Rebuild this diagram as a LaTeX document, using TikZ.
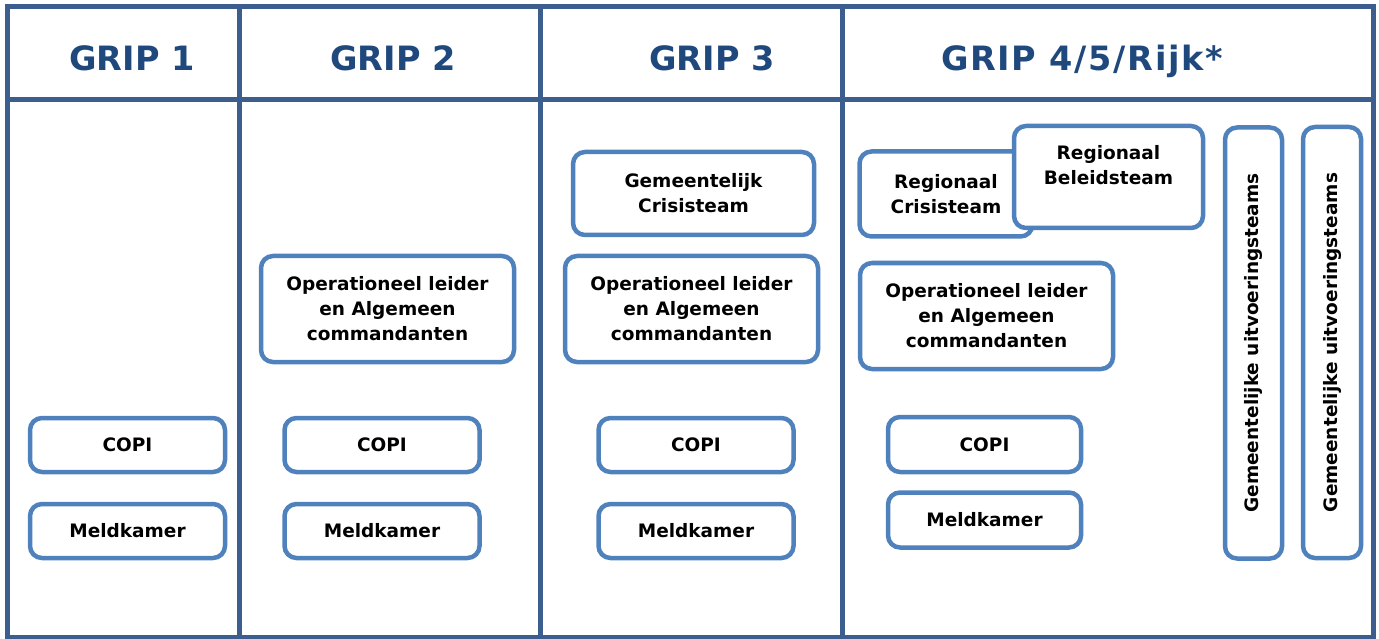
\documentclass[tikz,border=0pt]{standalone}
\usepackage{fontspec}
\setmainfont{DejaVu Sans}
\definecolor{gripline}{RGB}{59,94,143}
\definecolor{griptext}{RGB}{31,73,125}
\definecolor{boxline}{RGB}{79,129,189}
\tikzset{
  teambox/.style={draw=boxline, line width=4.5pt, rounded corners=12pt, fill=white,
    align=center, inner sep=0pt, font=\fontsize{18.5}{25}\selectfont\bfseries},
  griphead/.style={anchor=base, text=griptext, font=\fontsize{33.5}{38}\selectfont\bfseries},
  gridline/.style={draw=gripline, line width=5pt}
}
\begin{document}
\begin{tikzpicture}[x=1pt,y=-1pt]
\useasboundingbox (0,0) rectangle (1379,639);
% grid
\draw[gridline] (7,637)--(7,7)--(1373,7)--(1373,637)--cycle;
\draw[gridline] (7,100)--(1373,100);
\foreach \x in {239.5,540,842}
{
    \draw[gridline] (\x,7)--(\x,637);
}
% headers
\node[griphead] (grip1) at (132,71) {GRIP 1};
\node[griphead] (grip2) at (393,71) {GRIP 2};
\node[griphead] (grip3) at (712,71) {GRIP 3};
\node[griphead] (grip4) at (1082,71) {\addfontfeature{LetterSpace=5}GRIP 4/5/Rijk*};
% GRIP 1-3
\foreach \x/\n in {127.5/1,382/2,696/3}
{
    \node[teambox, minimum width=195, minimum height=54] (copi\n) at (\x,445) {COPI};
    \node[teambox, minimum width=195, minimum height=54] (meld\n) at (\x,531) {Meldkamer};
}
\node[teambox, minimum width=253, minimum height=106] (ol2) at (387.5,309) {Operationeel leider\\en Algemeen\\commandanten};
\node[teambox, minimum width=253, minimum height=106] (ol3) at (691.5,309) {Operationeel leider\\en Algemeen\\commandanten};
\node[teambox, minimum width=241, minimum height=83] (gc3) at (693.5,193.5) {Gemeentelijk\\Crisisteam};
% GRIP 4/5/Rijk
\node[teambox, minimum width=173, minimum height=85] (rc4) at (946,194) {Regionaal\\Crisisteam};
\node[teambox, minimum width=189, minimum height=102] (rb4) at (1108.5,177) {Regionaal\\Beleidsteam\\\mbox{}};
\node[teambox, minimum width=253, minimum height=106] (ol4) at (986.5,316) {Operationeel leider\\en Algemeen\\commandanten};
\node[teambox, minimum width=193, minimum height=55] (copi4) at (984.5,444.5) {COPI};
\node[teambox, minimum width=193, minimum height=55] (meld4) at (984.5,520) {Meldkamer};
\node[teambox, rotate=90, minimum width=431, minimum height=57] (gu1) at (1253.5,343) {Gemeentelijke uitvoeringsteams};
\node[teambox, rotate=90, minimum width=431, minimum height=58] (gu2) at (1332,342.5) {Gemeentelijke uitvoeringsteams};

\end{tikzpicture}
\end{document}
